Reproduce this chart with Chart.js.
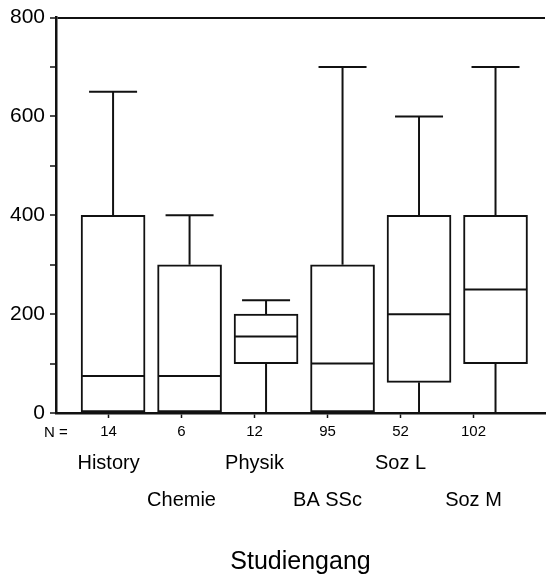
<!DOCTYPE html>
<html>
<head>
<meta charset="utf-8">
<script src="https://cdn.jsdelivr.net/npm/chart.js@4.4.0/dist/chart.umd.min.js"></script>
<style>
html,body{margin:0;padding:0;background:#fff}
#c{display:block}
</style>
</head>
<body>
<canvas id="c" width="547" height="575"></canvas>
<script>
// Studiengang boxplot values
const groups = ['History', 'Chemie', 'Physik', 'BA SSc', 'Soz L', 'Soz M'];
const counts = [14, 6, 12, 95, 52, 102];
const whiskerLow = [0, 0, 0, 0, 0, 0];
const q1 = [0, 0, 100, 0, 62, 100];
const medians = [75, 75, 155, 100, 200, 250];
const q3 = [400, 300, 200, 300, 400, 400];
const whiskerHigh = [650, 400, 228, 700, 600, 700];
const yTicks = [0, 100, 200, 300, 400, 500, 600, 700, 800];

const font = "'Liberation Sans', Arial, sans-serif";
const ink = '#111';
// boxes sit a little off the count ticks, like in the original
const boxStep = 1.048, boxShift = 0.062;
const boxPos = i => i * boxStep + boxShift;

const boxes = groups.map((g, i) => ({ x: boxPos(i), y: [q1[i], q3[i]] }));

const whiskers = {
  id: 'whiskers',
  afterDatasetsDraw(chart) {
    const ctx = chart.ctx;
    const xs = chart.scales.x, ys = chart.scales.y;
    ctx.save();
    ctx.strokeStyle = ink;
    ctx.lineWidth = 2;
    groups.forEach((g, i) => {
      const px = xs.getPixelForValue(boxPos(i));
      const line = (x1, y1, x2, y2) => {
        ctx.beginPath(); ctx.moveTo(x1, y1); ctx.lineTo(x2, y2); ctx.stroke();
      };
      // median
      line(px - 31, ys.getPixelForValue(medians[i]), px + 31, ys.getPixelForValue(medians[i]));
      // upper whisker + cap
      if (whiskerHigh[i] > q3[i]) {
        line(px, ys.getPixelForValue(q3[i]), px, ys.getPixelForValue(whiskerHigh[i]));
        line(px - 24, ys.getPixelForValue(whiskerHigh[i]), px + 24, ys.getPixelForValue(whiskerHigh[i]));
      }
      // lower whisker
      if (whiskerLow[i] < q1[i]) {
        line(px, ys.getPixelForValue(q1[i]), px, ys.getPixelForValue(whiskerLow[i]));
      }
    });
    // "N =" in front of the counts row
    ctx.fillStyle = '#000';
    ctx.font = '15px ' + font;
    ctx.textAlign = 'center';
    ctx.textBaseline = 'middle';
    ctx.fillText('N =', chart.chartArea.left, xs.top + 20);
    ctx.restore();
  }
};

const catTicks = axis => { axis.ticks = counts.map((c, i) => ({ value: i })); };

new Chart(document.getElementById('c'), {
  type: 'bar',
  data: {
    datasets: [{
      data: boxes,
      backgroundColor: '#fff',
      borderColor: ink,
      borderWidth: 2,
      borderSkipped: false,
      barThickness: 64
    }]
  },
  options: {
    responsive: false,
    animation: false,
    devicePixelRatio: 1,
    layout: { padding: { top: 16, right: 2, left: 0, bottom: 0 } },
    plugins: { legend: { display: false }, tooltip: { enabled: false } },
    scales: {
      x: {
        type: 'linear',
        position: 'bottom',
        weight: 0,
        offset: false,
        min: -0.72,
        max: 5.98,
        afterBuildTicks: catTicks,
        afterFit: a => { a.height = 30; },
        ticks: {
          callback: (v, i) => counts[i],
          color: '#000',
          font: { family: font, size: 15 },
          padding: 5,
          maxRotation: 0,
          autoSkip: false
        },
        grid: { offset: false, drawOnChartArea: false, tickLength: 5, tickColor: ink, tickWidth: 1.5 },
        border: { color: ink, width: 2.5 }
      },
      x2: {
        type: 'linear',
        position: 'bottom',
        weight: 1,
        offset: false,
        min: -0.72,
        max: 5.98,
        afterBuildTicks: catTicks,
        afterFit: a => { a.height = 132; },
        ticks: {
          callback: (v, i) => (i % 2 ? ['', groups[i]] : [groups[i]]),
          color: '#000',
          font: { family: font, size: 20, lineHeight: 1.85 },
          padding: 2,
          maxRotation: 0,
          autoSkip: false
        },
        grid: { offset: false, display: false, drawTicks: false },
        border: { display: false },
        title: {
          display: true,
          text: 'Studiengang',
          color: '#000',
          font: { family: font, size: 25, lineHeight: 1 },
          padding: { top: 0, bottom: 0 }
        }
      },
      y: {
        min: 0,
        max: 800,
        afterBuildTicks: a => { a.ticks = yTicks.map(v => ({ value: v })); },
        afterFit: a => { a.width = 56; },
        ticks: {
          callback: v => (v % 200 === 0 ? v : ''),
          color: '#000',
          font: { family: font, size: 21 },
          padding: 5
        },
        grid: {
          color: c => (c.tick && c.tick.value === 800 ? ink : 'rgba(0,0,0,0)'),
          lineWidth: 2,
          tickLength: 6,
          tickColor: ink,
          tickWidth: 1.5
        },
        border: { color: ink, width: 2.5 }
      }
    }
  },
  plugins: [whiskers]
});
</script>
</body>
</html>
